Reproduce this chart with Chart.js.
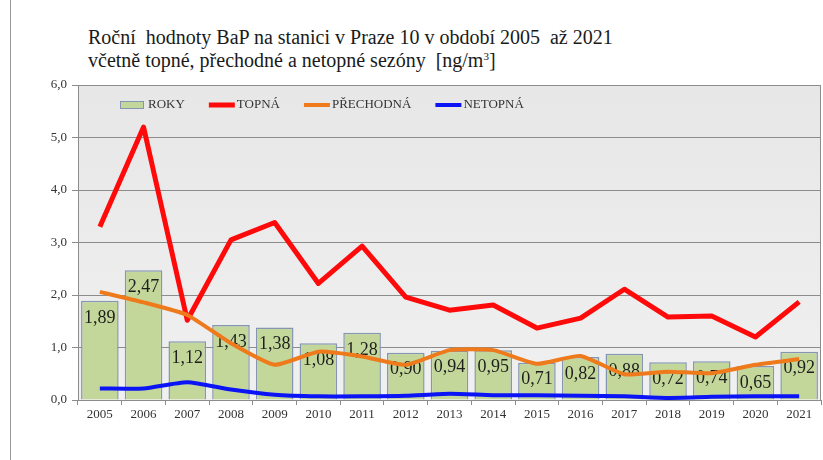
<!DOCTYPE html>
<html>
<head>
<meta charset="utf-8">
<script src="https://cdn.jsdelivr.net/npm/chart.js@4.4.1/dist/chart.umd.min.js"></script>
<style>
    html, body { margin: 0; padding: 0; background: #fff; }
    .frame {
        position: relative;
        width: 823px;
        height: 460px;
        overflow: hidden;
    }
    .frame::before {
        content: '';
        position: absolute;
        left: 10px; top: 0; bottom: 0;
        border-left: 1px solid #9a9a9a;
    }
    .title {
        position: absolute;
        left: 88px;
        top: 26px;
        font-family: 'Liberation Serif', serif;
        font-size: 20px;
        line-height: 23px;
        color: #1a1a1a;
        white-space: pre;
    }
    .title sup { font-size: 11px; vertical-align: 7px; line-height: 0; }
    canvas { position: absolute; left: 0; top: 0; }
</style>
</head>
<body>
<div class="frame">
    <div class="title">Roční  hodnoty BaP na stanici v Praze 10 v období 2005  až 2021
včetně topné, přechodné a netopné sezóny  [ng/m<sup>3</sup>]</div>
    <canvas id="bapChart" width="823" height="460"></canvas>
</div>
<script>
// ── Data ──
const years = ['2005', '2006', '2007', '2008', '2009', '2010', '2011', '2012', '2013',
    '2014', '2015', '2016', '2017', '2018', '2019', '2020', '2021'];
const roky = [1.89, 2.47, 1.12, 1.43, 1.38, 1.08, 1.28, 0.90, 0.94,
    0.95, 0.71, 0.82, 0.88, 0.72, 0.74, 0.65, 0.92];
const topna = [3.30, 5.20, 1.52, 3.05, 3.38, 2.22, 2.93, 1.96, 1.71,
    1.81, 1.37, 1.56, 2.11, 1.58, 1.60, 1.20, 1.87];
const prechodna = [2.06, 1.86, 1.62, 1.08, 0.67, 0.92, 0.83, 0.67, 0.95,
    0.95, 0.69, 0.84, 0.49, 0.54, 0.51, 0.67, 0.78];
const netopna = [0.22, 0.22, 0.34, 0.20, 0.10, 0.07, 0.07, 0.08, 0.12,
    0.09, 0.09, 0.08, 0.07, 0.04, 0.06, 0.07, 0.07];
const yTicks = [0, 1, 2, 3, 4, 5, 6];

const colors = {
    bar: '#c4d79b',
    barBorder: '#8596b2',
    red: '#ff0a0a',
    orange: '#ee7a1c',
    blue: '#0a14f5',
    grid: '#8c8c8c',
    text: '#333333'
};

const serif = "'Liberation Serif', 'DejaVu Serif', serif";
const fmt = (v, d) => v.toFixed(d).replace('.', ',');

// gray plot background
const plotBackground = {
    id: 'plotBackground',
    beforeDraw(chart) {
        const { ctx, chartArea: a } = chart;
        const g = ctx.createLinearGradient(0, a.top, 0, a.bottom);
        g.addColorStop(0, '#e7e7e7');
        g.addColorStop(1, '#f0f0f0');
        ctx.save();
        ctx.fillStyle = g;
        ctx.fillRect(a.left, a.top, a.right - a.left, a.bottom - a.top);
        ctx.strokeStyle = colors.grid;
        ctx.lineWidth = 1;
        ctx.beginPath();
        ctx.moveTo(a.right - 0.5, a.top);
        ctx.lineTo(a.right - 0.5, a.bottom);
        ctx.stroke();
        ctx.restore();
    }
};

// values printed inside the top of each bar
const barValues = {
    id: 'barValues',
    afterDatasetDraw(chart, args) {
        if (args.index !== 0) return;
        const { ctx } = chart;
        ctx.save();
        ctx.font = '18px ' + serif;
        ctx.fillStyle = '#1e1e1e';
        ctx.textAlign = 'center';
        ctx.textBaseline = 'middle';
        args.meta.data.forEach((bar, i) => {
            ctx.fillText(fmt(roky[i], 2), bar.x, bar.y + 17);
        });
        ctx.restore();
    }
};

// legend row inside the plot area
const innerLegend = {
    id: 'innerLegend',
    afterDraw(chart) {
        const { ctx, chartArea: a } = chart;
        const y = a.top + 20;
        let x = 120;
        ctx.save();
        ctx.font = '13px ' + serif;
        ctx.textBaseline = 'middle';
        chart.data.datasets.forEach(ds => {
            if (ds.type === 'bar') {
                ctx.fillStyle = ds.backgroundColor;
                ctx.fillRect(x, y - 4, 24, 8);
                ctx.strokeStyle = ds.borderColor;
                ctx.lineWidth = 1;
                ctx.strokeRect(x + 0.5, y - 3.5, 23, 7);
            } else {
                ctx.strokeStyle = ds.borderColor;
                ctx.lineWidth = ds.borderWidth;
                ctx.beginPath();
                ctx.moveTo(x, y);
                ctx.lineTo(x + 26, y);
                ctx.stroke();
            }
            x += 28;
            ctx.fillStyle = colors.text;
            ctx.fillText(ds.label, x, y);
            x += ctx.measureText(ds.label).width + 24;
        });
        ctx.restore();
    }
};

new Chart(document.getElementById('bapChart'), {
    data: {
        labels: years,
        datasets: [
            {
                type: 'bar',
                label: 'ROKY',
                data: roky,
                backgroundColor: colors.bar,
                borderColor: colors.barBorder,
                borderWidth: 1.5,
                barPercentage: 0.86,
                categoryPercentage: 1,
                order: 4
            },
            {
                type: 'line',
                label: 'TOPNÁ',
                data: topna,
                borderColor: colors.red,
                borderWidth: 5,
                pointRadius: 0,
                tension: 0,
                borderJoinStyle: 'round',
                order: 3
            },
            {
                type: 'line',
                label: 'PŘECHODNÁ',
                data: prechodna,
                borderColor: colors.orange,
                borderWidth: 4,
                pointRadius: 0,
                tension: 0.15,
                order: 2
            },
            {
                type: 'line',
                label: 'NETOPNÁ',
                data: netopna,
                borderColor: colors.blue,
                borderWidth: 4,
                pointRadius: 0,
                tension: 0.2,
                order: 1
            }
        ]
    },
    options: {
        responsive: false,
        animation: false,
        layout: { padding: { top: 85, left: 18, right: 2, bottom: 33 } },
        plugins: {
            legend: { display: false },
            tooltip: { enabled: false }
        },
        scales: {
            x: {
                grid: {
                    offset: true,
                    drawOnChartArea: false,
                    tickLength: 5,
                    color: colors.grid
                },
                border: { color: colors.grid },
                ticks: {
                    font: { family: serif, size: 13 },
                    color: colors.text,
                    padding: 2,
                    maxRotation: 0,
                    autoSkip: false
                },
                afterFit: (scale) => { scale.height = 27; }
            },
            y: {
                min: 0,
                max: 6,
                afterBuildTicks: (scale) => {
                    scale.ticks = yTicks.map(v => ({ value: v }));
                },
                grid: { color: colors.grid, tickLength: 6 },
                border: { color: colors.grid },
                ticks: {
                    font: { family: serif, size: 13 },
                    color: colors.text,
                    padding: 5,
                    callback: (v) => fmt(v, 1)
                },
                afterFit: (scale) => { scale.width = 60; }
            }
        }
    },
    plugins: [plotBackground, barValues, innerLegend]
});
</script>
</body>
</html>
